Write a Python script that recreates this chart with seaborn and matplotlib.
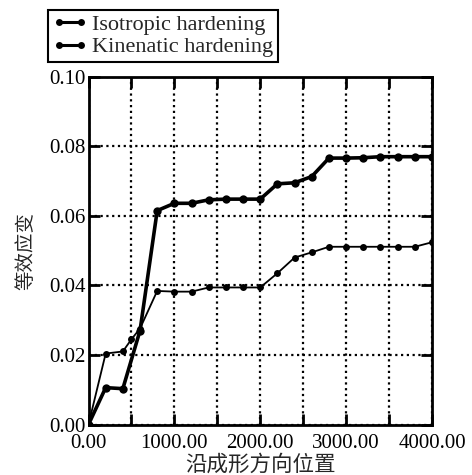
import matplotlib
matplotlib.use("Agg")
import matplotlib.pyplot as plt
import seaborn as sns
import pandas as pd

# ---- data ----
x_iso = [0, 200, 400, 600, 800, 1000, 1200, 1400, 1600, 1800, 2000,
         2200, 2400, 2600, 2800, 3000, 3200, 3400, 3600, 3800, 4000]
y_iso = [0.0, 0.0106, 0.0103, 0.0270, 0.0615, 0.0636, 0.0636, 0.0646, 0.0648,
         0.0648, 0.0648, 0.0692, 0.0695, 0.0713, 0.0766, 0.0766, 0.0767,
         0.0770, 0.0770, 0.0770, 0.0770]

x_kin = [0, 200, 400, 500, 600, 800, 1000, 1200, 1400, 1600, 1800, 2000,
         2200, 2400, 2600, 2800, 3000, 3200, 3400, 3600, 3800, 4000]
y_kin = [0.0, 0.0204, 0.0210, 0.0245, 0.0276, 0.0384, 0.0382, 0.0382, 0.0394,
         0.0394, 0.0394, 0.0394, 0.0435, 0.0480, 0.0495, 0.0511, 0.0511,
         0.0511, 0.0511, 0.0511, 0.0511, 0.0524]

series_names = ["Isotropic hardening", "Kinenatic hardening"]
xlabel = "沿成形方向位置"
ylabel = "等效应变"
xtick_vals = [0, 500, 1000, 1500, 2000, 2500, 3000, 3500, 4000]
xtick_labels = ["0.00", "", "1000.00", "", "2000.00", "", "3000.00", "", "4000.00"]
ytick_vals = [0.00, 0.02, 0.04, 0.06, 0.08, 0.10]
ytick_labels = ["0.00", "0.02", "0.04", "0.06", "0.08", "0.10"]

df_iso = pd.DataFrame({"x": x_iso, "y": y_iso})
df_kin = pd.DataFrame({"x": x_kin, "y": y_kin})

# ---- style ----
sns.set_style("ticks")
plt.rcParams["font.family"] = ["Liberation Serif", "DejaVu Serif"]
plt.rcParams["axes.linewidth"] = 2.0

fig = plt.figure(figsize=(4.72, 4.75), dpi=100)
ax = fig.add_axes([88.5 / 472, 50.5 / 475, (432 - 88.5) / 472, (424.5 - 76.7) / 475])

sns.lineplot(data=df_iso, x="x", y="y", ax=ax, color="black", linewidth=2.6,
             marker="o", markersize=6, markeredgewidth=0, estimator=None,
             sort=False, label=series_names[0], zorder=4)
sns.lineplot(data=df_kin, x="x", y="y", ax=ax, color="black", linewidth=1.3,
             marker="o", markersize=5, markeredgewidth=0, estimator=None,
             sort=False, label=series_names[1], zorder=3)

ax.set_xlim(0, 4000)
ax.set_ylim(0, 0.10)
ax.set_xticks(xtick_vals)
ax.set_xticklabels(xtick_labels)
ax.set_yticks(ytick_vals)
ax.set_yticklabels(ytick_labels)

ax.grid(True, color="black", linestyle=(0, (1.0, 1.6)), linewidth=1.6)
ax.tick_params(axis="both", direction="in", length=8, width=2,
               top=True, right=True, labelsize=15, pad=2, colors="black")
ax.tick_params(axis="x", pad=7)

for sp in ax.spines.values():
    sp.set_visible(True)
    sp.set_color("black")
    sp.set_linewidth(2.0)

ax.set_xlabel(xlabel, family=["Noto Sans CJK SC", "DejaVu Sans"], fontsize=15.5, labelpad=0)
ax.set_ylabel(ylabel, family=["Noto Sans CJK SC", "DejaVu Sans"], fontsize=14, labelpad=9)

leg = ax.legend(loc="upper left", bbox_to_anchor=(48 / 472, 1 - 10 / 475),
                bbox_transform=fig.transFigure, fontsize=16, frameon=True,
                fancybox=False, edgecolor="black", framealpha=1,
                handlelength=1.6, handletextpad=0.2, borderpad=0.2,
                labelspacing=0.08, borderaxespad=0, numpoints=2)
leg.get_frame().set_linewidth(1.5)
for h in leg.get_lines():
    h.set_linewidth(2.2)
    h.set_markersize(5)

fig.savefig("out.png", dpi=100)
